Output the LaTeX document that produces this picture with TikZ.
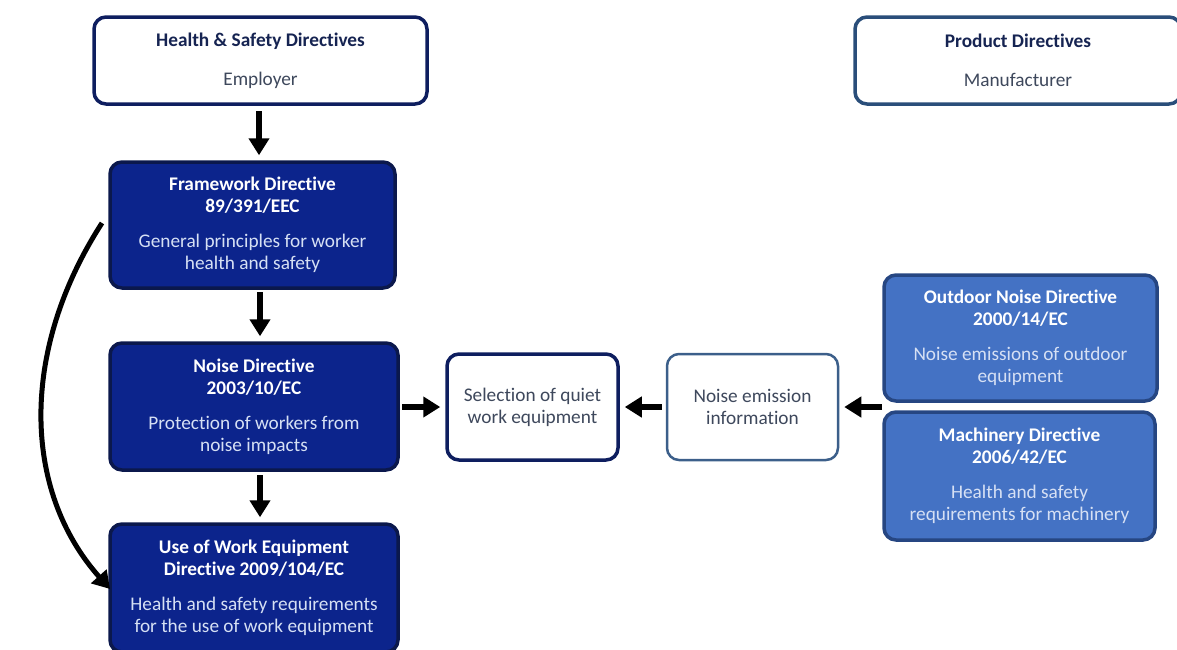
\documentclass[tikz,border=0pt]{standalone}
\usepackage{fontspec}
\setmainfont{Carlito}[Ligatures=NoCommon]
\usetikzlibrary{arrows.meta}
\definecolor{navyb}{RGB}{14,30,95}
\definecolor{navyf}{RGB}{12,36,140}
\definecolor{steelb}{RGB}{42,78,122}
\definecolor{emisb}{RGB}{60,95,138}
\definecolor{medf}{RGB}{68,114,196}
\definecolor{medb}{RGB}{38,70,130}
\definecolor{lighttxt}{RGB}{214,224,244}
\definecolor{titletxt}{RGB}{22,36,82}
\definecolor{bodytxt}{RGB}{62,72,92}
\tikzset{
  box/.style={rectangle, rounded corners=12pt, line width=3.5pt, align=center, inner sep=0pt,
    font=\fontsize{19.3}{22}\selectfont},
  whitebox/.style={box, draw=navyb, fill=white, text=titletxt},
  darkbox/.style={box, draw=navyb!80!black, fill=navyf, text=white},
  medbox/.style={box, draw=medb, fill=medf, text=white},
  flow/.style={line width=6pt, -{Triangle[length=17pt,width=20pt]}, shorten >=5pt},
}
\newcommand{\body}[1]{{\color{lighttxt}\fontseries{m}\selectfont #1}}
\begin{document}
\begin{tikzpicture}[x=1pt,y=-1pt]
\useasboundingbox (0,0) rectangle (1177,649);
% top boxes
\node[whitebox, minimum width=333pt, minimum height=87pt] (hs) at (260.5,60.5)
  {\textbf{Health \& Safety Directives}\\[17pt]{\color{bodytxt}Employer}};
\node[whitebox, draw=steelb, minimum width=326pt, minimum height=87pt] (prod) at (1018,60.5)
  {\textbf{Product Directives}\\[17pt]{\color{bodytxt}Manufacturer}};
% left column
\node[darkbox, minimum width=285pt, minimum height=126pt] (fw) at (252.5,225)
  {\textbf{Framework Directive}\\\textbf{89/391/EEC}\\[13pt]\body{General principles for worker}\\\body{health and safety}};
\node[darkbox, minimum width=288pt, minimum height=127pt] (nd) at (254,406.5)
  {\textbf{Noise Directive}\\\textbf{2003/10/EC}\\[13pt]\body{Protection of workers from}\\\body{noise impacts}};
\node[darkbox, minimum width=288pt, minimum height=128pt] (uwe) at (254,588)
  {\textbf{Use of Work Equipment}\\\textbf{Directive 2009/104/EC}\\[13pt]\body{Health and safety requirements}\\\body{for the use of work equipment}};
% middle
\node[whitebox, text=bodytxt, minimum width=171pt, minimum height=106pt] (sel) at (532.5,407)
  {Selection of quiet\\work equipment};
\node[whitebox, draw=emisb, text=bodytxt, line width=2.5pt, minimum width=171pt, minimum height=106pt] (nei) at (752.5,407)
  {Noise emission\\information};
% right
\node[medbox, minimum width=273pt, minimum height=126pt] (od) at (1020.5,338)
  {\textbf{Outdoor Noise Directive}\\\textbf{2000/14/EC}\\[13pt]\body{Noise emissions of outdoor}\\\body{equipment}};
\node[medbox, minimum width=271pt, minimum height=128pt] (mach) at (1019.5,476)
  {\textbf{Machinery Directive}\\\textbf{2006/42/EC}\\[13pt]\body{Health and safety}\\\body{requirements for machinery}};
% connectors
\coordinate (hsa) at (259,111);
\coordinate (fwa) at (260,292);
\coordinate (nda) at (260,475);
\coordinate (ndr) at (402,407);
\coordinate (neil) at (662,407);
\coordinate (rgt) at (882,407);
\draw[flow] (hsa) -- (hsa |- fw.north);
\draw[flow] (fwa) -- (fwa |- nd.north);
\draw[flow] (nda) -- (nda |- uwe.north);
\draw[flow] (ndr) -- (sel.west);
\draw[flow] (neil) -- (sel.east);
\draw[flow] (rgt) -- (nei.east);
\coordinate (cs) at (102,223);
\coordinate (ce) at (110,589);
\draw[line width=5pt, -{Triangle[length=17pt,width=20pt]}] (cs) .. controls (20,350) and (22,490) .. (ce);
\end{tikzpicture}
\end{document}
